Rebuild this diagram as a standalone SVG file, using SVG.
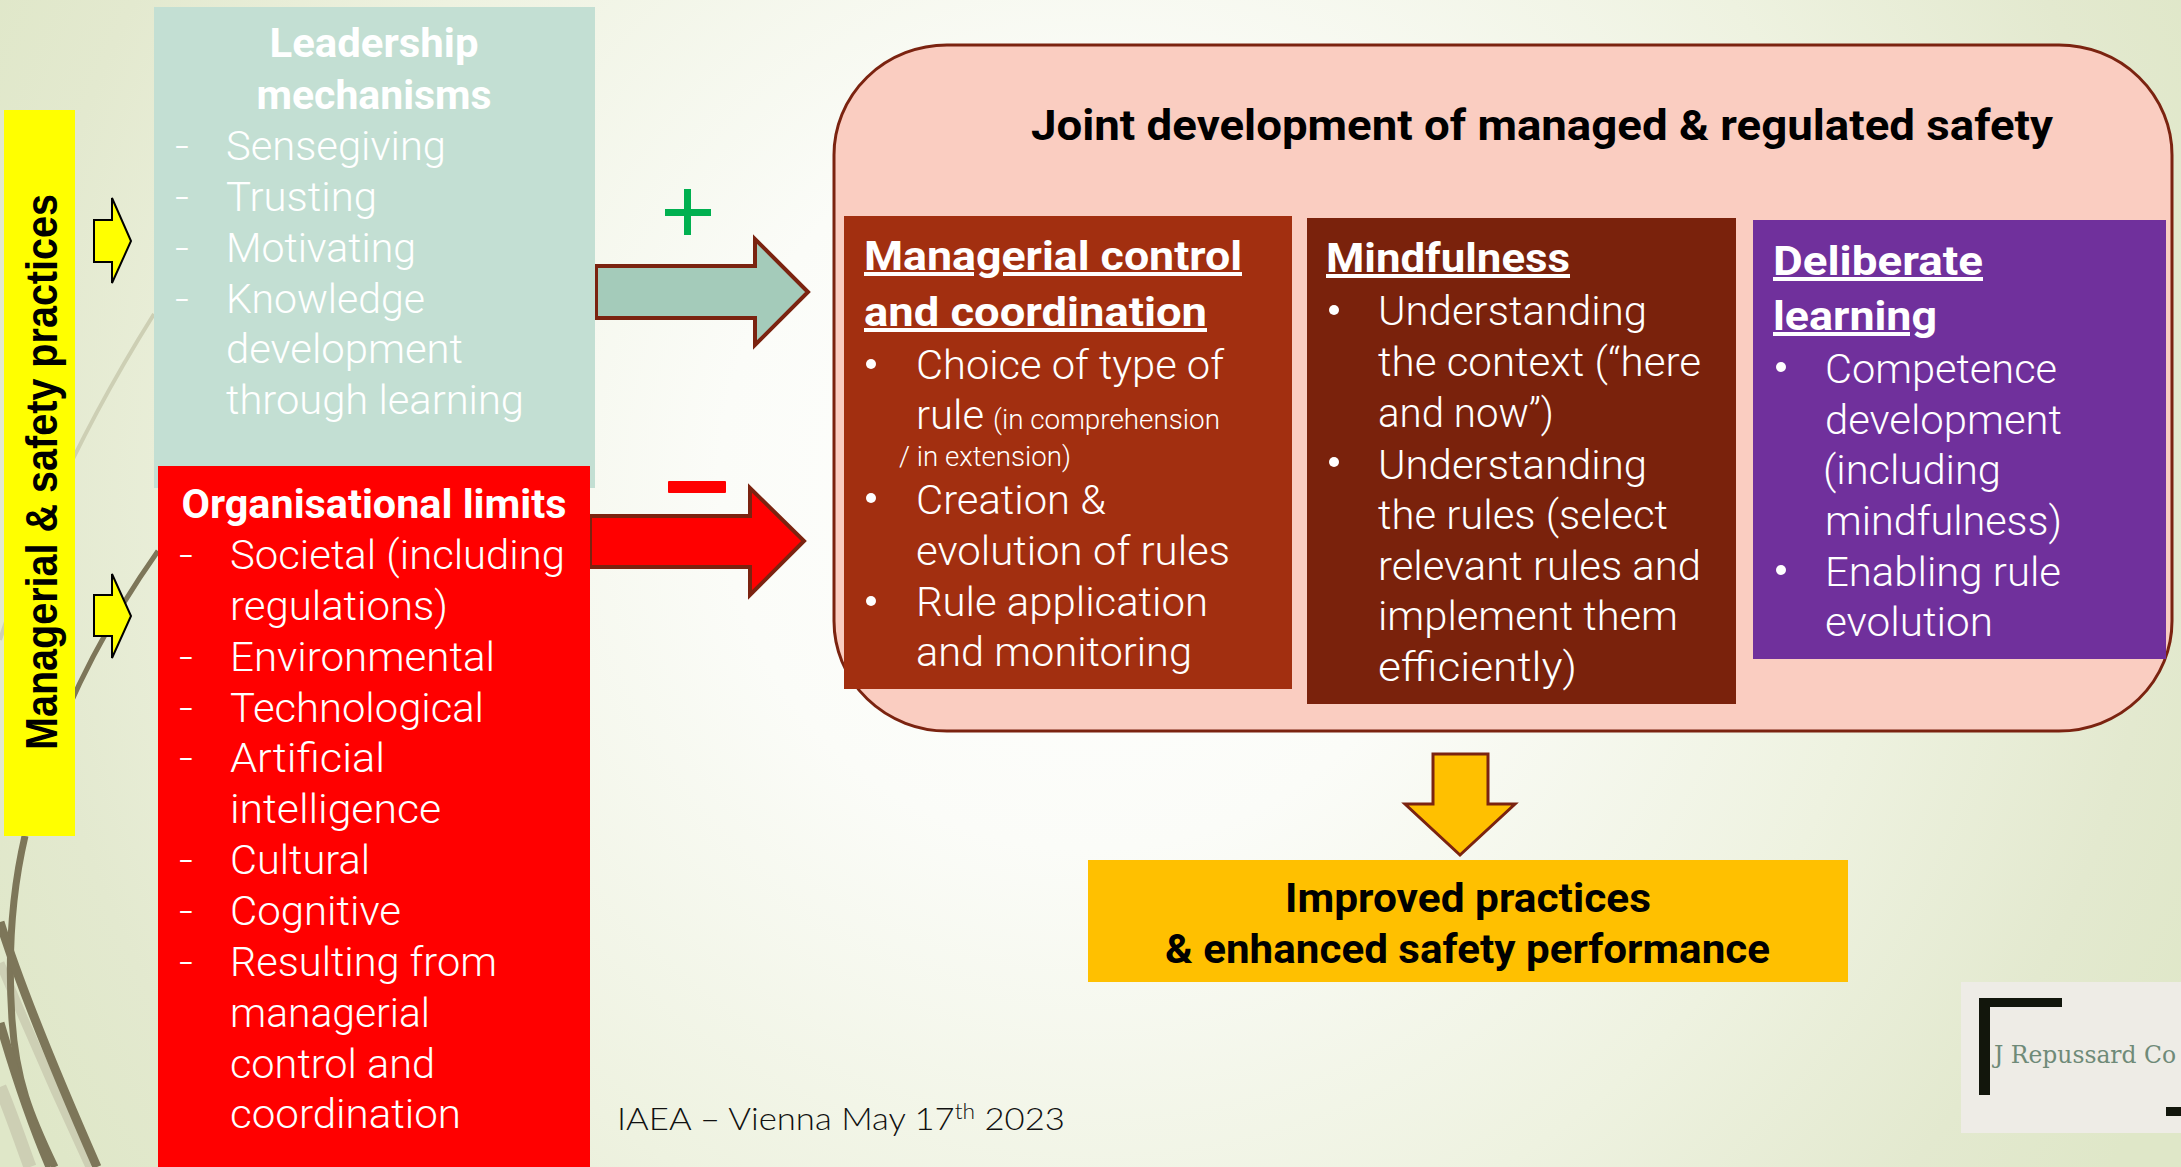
<svg xmlns="http://www.w3.org/2000/svg" width="2181" height="1167" viewBox="0 0 2181 1167">
<style>
text{font-family:Roboto,"Liberation Sans",sans-serif;fill:#fff}
.b{font-size:40px;font-weight:300}
.h{font-size:40px;font-weight:700}
.u{text-decoration:underline}
.k{fill:#000}
.s{font-size:27px;font-weight:300}
.ar{stroke:#7b2310;stroke-width:4}
.wd{fill:none;stroke:#7d7659}
.wl{fill:none;stroke:#cdcfb4}
</style>
<defs><radialGradient id="bg" gradientUnits="userSpaceOnUse" cx="1090" cy="480" r="1230"><stop offset="0" stop-color="#fff"/><stop offset=".3" stop-color="#fbfcf8"/><stop offset=".65" stop-color="#eef2e0"/><stop offset=".87" stop-color="#e3e9cf"/><stop offset="1" stop-color="#dfe7c8"/></radialGradient></defs>
<rect id="background" width="2181" height="1167" fill="url(#bg)"/>
<g id="wisps">
<path class="wl" stroke-width="4" d="M154 314Q50 480 0 640"/>
<path class="wl" stroke-width="9" d="M0 963C20 1010 40 1060 90 1167"/>
<path class="wl" stroke-width="13" d="M0 1087C10 1110 20 1140 30 1167"/>
<path class="wd" stroke-width="5" d="M158 551Q60 690 25 836"/>
<path class="wd" stroke-width="7" d="M25 836C10 900 8 960 12 1020C16 1080 30 1115 55 1167"/>
<path class="wd" stroke-width="9" d="M0 922C15 970 50 1060 97 1167"/>
<path class="wd" stroke-width="9" d="M0 1023C15 1075 30 1120 50 1167"/>
</g>
<g id="connectors">
<path class="ar" fill="#a4cbba" d="M596 266H755V239L808 292L755 345V318H596Z"/>
<path class="ar" fill="#f00" d="M590 516H750V488L804 541L750 595V567H590Z"/>
<path class="ar" style="stroke-width:3" fill="#ffc000" d="M1433 754H1488V804H1515L1460 855L1405 804H1433Z"/>
<path fill="#ff0" stroke="#000" stroke-width="2" d="M94 220H112V198L131 241L112 283V262H94Z"/>
<path fill="#ff0" stroke="#000" stroke-width="2" d="M94 595H112V574L131 616L112 658V636H94Z"/>
</g>
<g id="sign-plus"><path fill="#00b050" d="M684 189h7v20h20v7h-20v19h-7v-19h-19v-7h19z"/></g>
<g id="sign-minus"><rect x="668" y="481" width="58" height="12" rx="1" fill="#f00"/></g>
<g id="practices"><rect x="4" y="110" width="71" height="726" fill="#ff0"/>
<text transform="translate(57 750) rotate(-90)" textLength="556" lengthAdjust="spacingAndGlyphs" style="font-family:'Liberation Sans',sans-serif;font-size:44px;font-weight:700;fill:#000">Managerial &amp; safety practices</text></g>
<g id="leadership"><rect x="154" y="7" width="441" height="481" fill="#c3dfd3"/>
<text class="h" x="374" y="57" text-anchor="middle" textLength="209" lengthAdjust="spacingAndGlyphs">Leadership</text>
<text class="h" x="374" y="109" text-anchor="middle" textLength="235" lengthAdjust="spacingAndGlyphs">mechanisms</text>
<text class="b" x="175" y="160" textLength="14" lengthAdjust="spacingAndGlyphs">-</text><text class="b" x="226" y="160" textLength="220" lengthAdjust="spacingAndGlyphs">Sensegiving</text>
<text class="b" x="175" y="211" textLength="14" lengthAdjust="spacingAndGlyphs">-</text><text class="b" x="226" y="211" textLength="151" lengthAdjust="spacingAndGlyphs">Trusting</text>
<text class="b" x="175" y="262" textLength="14" lengthAdjust="spacingAndGlyphs">-</text><text class="b" x="226" y="262" textLength="190" lengthAdjust="spacingAndGlyphs">Motivating</text>
<text class="b" x="175" y="313" textLength="14" lengthAdjust="spacingAndGlyphs">-</text><text class="b" x="226" y="313" textLength="199" lengthAdjust="spacingAndGlyphs">Knowledge</text>
<text class="b" x="226" y="363" textLength="237" lengthAdjust="spacingAndGlyphs">development</text>
<text class="b" x="226" y="414" textLength="298" lengthAdjust="spacingAndGlyphs">through learning</text></g>
<g id="limits"><rect x="158" y="466" width="432" height="701" fill="#f00"/>
<text class="h" x="374" y="518" text-anchor="middle" textLength="385" lengthAdjust="spacingAndGlyphs">Organisational limits</text>
<text class="b" x="179" y="569" textLength="14" lengthAdjust="spacingAndGlyphs">-</text><text class="b" x="230" y="569" textLength="335" lengthAdjust="spacingAndGlyphs">Societal (including</text>
<text class="b" x="230" y="620" textLength="218" lengthAdjust="spacingAndGlyphs">regulations)</text>
<text class="b" x="179" y="671" textLength="14" lengthAdjust="spacingAndGlyphs">-</text><text class="b" x="230" y="671" textLength="265" lengthAdjust="spacingAndGlyphs">Environmental</text>
<text class="b" x="179" y="722" textLength="14" lengthAdjust="spacingAndGlyphs">-</text><text class="b" x="230" y="722" textLength="254" lengthAdjust="spacingAndGlyphs">Technological</text>
<text class="b" x="179" y="772" textLength="14" lengthAdjust="spacingAndGlyphs">-</text><text class="b" x="230" y="772" textLength="155" lengthAdjust="spacingAndGlyphs">Artificial</text>
<text class="b" x="230" y="823" textLength="211" lengthAdjust="spacingAndGlyphs">intelligence</text>
<text class="b" x="179" y="874" textLength="14" lengthAdjust="spacingAndGlyphs">-</text><text class="b" x="230" y="874" textLength="140" lengthAdjust="spacingAndGlyphs">Cultural</text>
<text class="b" x="179" y="925" textLength="14" lengthAdjust="spacingAndGlyphs">-</text><text class="b" x="230" y="925" textLength="171" lengthAdjust="spacingAndGlyphs">Cognitive</text>
<text class="b" x="179" y="976" textLength="14" lengthAdjust="spacingAndGlyphs">-</text><text class="b" x="230" y="976" textLength="267" lengthAdjust="spacingAndGlyphs">Resulting from</text>
<text class="b" x="230" y="1027" textLength="200" lengthAdjust="spacingAndGlyphs">managerial</text>
<text class="b" x="230" y="1078" textLength="205" lengthAdjust="spacingAndGlyphs">control and</text>
<text class="b" x="230" y="1128" textLength="231" lengthAdjust="spacingAndGlyphs">coordination</text></g>
<g id="joint"><rect x="834" y="45" width="1338" height="686" rx="113" ry="110" fill="#facdc1" stroke="#7b2310" stroke-width="3"/>
<text class="h k" x="1031" y="140" textLength="1022" lengthAdjust="spacingAndGlyphs" style="font-size:43px">Joint development of managed &amp; regulated safety</text></g>
<g id="control"><rect x="844" y="216" width="448" height="473" fill="#a22f10"/>
<text class="h u" x="864" y="270" textLength="378" lengthAdjust="spacingAndGlyphs">Managerial control</text>
<text class="h u" x="864" y="326" textLength="343" lengthAdjust="spacingAndGlyphs">and coordination</text>
<circle cx="871" cy="364" r="5" fill="#fff"/><text class="b" x="916" y="379" textLength="308" lengthAdjust="spacingAndGlyphs">Choice of type of</text>
<text class="b" x="916" y="429" textLength="68" lengthAdjust="spacingAndGlyphs">rule</text><text class="s" x="993" y="429" textLength="227" lengthAdjust="spacingAndGlyphs">(in comprehension</text>
<text class="s" x="899" y="466" textLength="172" lengthAdjust="spacingAndGlyphs">/ in extension)</text>
<circle cx="871" cy="498" r="5" fill="#fff"/><text class="b" x="916" y="514" textLength="190" lengthAdjust="spacingAndGlyphs">Creation &amp;</text>
<text class="b" x="916" y="565" textLength="314" lengthAdjust="spacingAndGlyphs">evolution of rules</text>
<circle cx="871" cy="601" r="5" fill="#fff"/><text class="b" x="916" y="616" textLength="292" lengthAdjust="spacingAndGlyphs">Rule application</text>
<text class="b" x="916" y="666" textLength="276" lengthAdjust="spacingAndGlyphs">and monitoring</text></g>
<g id="mindfulness"><rect x="1307" y="218" width="429" height="486" fill="#7a220c"/>
<text class="h u" x="1326" y="272" textLength="244" lengthAdjust="spacingAndGlyphs">Mindfulness</text>
<circle cx="1334" cy="310" r="5" fill="#fff"/><text class="b" x="1378" y="325" textLength="269" lengthAdjust="spacingAndGlyphs">Understanding</text>
<text class="b" x="1378" y="376" textLength="323" lengthAdjust="spacingAndGlyphs">the context (“here</text>
<text class="b" x="1378" y="427" textLength="176" lengthAdjust="spacingAndGlyphs">and now”)</text>
<circle cx="1334" cy="462" r="5" fill="#fff"/><text class="b" x="1378" y="479" textLength="269" lengthAdjust="spacingAndGlyphs">Understanding</text>
<text class="b" x="1378" y="529" textLength="290" lengthAdjust="spacingAndGlyphs">the rules (select</text>
<text class="b" x="1378" y="580" textLength="323" lengthAdjust="spacingAndGlyphs">relevant rules and</text>
<text class="b" x="1378" y="630" textLength="300" lengthAdjust="spacingAndGlyphs">implement them</text>
<text class="b" x="1378" y="681" textLength="199" lengthAdjust="spacingAndGlyphs">efficiently)</text></g>
<g id="learning"><rect x="1753" y="220" width="413" height="439" fill="#70309c"/>
<text class="h u" x="1773" y="275" textLength="210" lengthAdjust="spacingAndGlyphs">Deliberate</text>
<text class="h u" x="1773" y="330" textLength="164" lengthAdjust="spacingAndGlyphs">learning</text>
<circle cx="1781" cy="367" r="5" fill="#fff"/><text class="b" x="1825" y="383" textLength="232" lengthAdjust="spacingAndGlyphs">Competence</text>
<text class="b" x="1825" y="434" textLength="237" lengthAdjust="spacingAndGlyphs">development</text>
<text class="b" x="1823" y="484" textLength="178" lengthAdjust="spacingAndGlyphs">(including</text>
<text class="b" x="1825" y="535" textLength="237" lengthAdjust="spacingAndGlyphs">mindfulness)</text>
<circle cx="1781" cy="570" r="5" fill="#fff"/><text class="b" x="1825" y="586" textLength="236" lengthAdjust="spacingAndGlyphs">Enabling rule</text>
<text class="b" x="1825" y="636" textLength="168" lengthAdjust="spacingAndGlyphs">evolution</text></g>
<g id="outcome"><rect x="1088" y="860" width="760" height="122" fill="#ffc000"/>
<text class="h k" x="1285" y="912" textLength="366" lengthAdjust="spacingAndGlyphs">Improved practices</text>
<text class="h k" x="1165" y="963" textLength="605" lengthAdjust="spacingAndGlyphs">&amp; enhanced safety performance</text></g>
<g id="footer"><text x="617" y="1130" textLength="448" lengthAdjust="spacingAndGlyphs" style="font-family:Lato,sans-serif;font-size:32px;font-weight:300;fill:#111">IAEA – Vienna May 17<tspan dy="-11" font-size="21">th</tspan><tspan dy="11"> 2023</tspan></text></g>
<g id="logo"><rect x="1961" y="982" width="220" height="151" fill="#eeece6"/>
<path fill="#12160c" d="M1979 998h83v9h-72v88h-11z"/><rect x="2166" y="1107" width="15" height="9" fill="#12160c"/>
<text x="1994" y="1063" textLength="182" lengthAdjust="spacingAndGlyphs" style="font-family:'DejaVu Serif',serif;font-size:24px;fill:#6f8a78">J Repussard Co</text></g>
</svg>
